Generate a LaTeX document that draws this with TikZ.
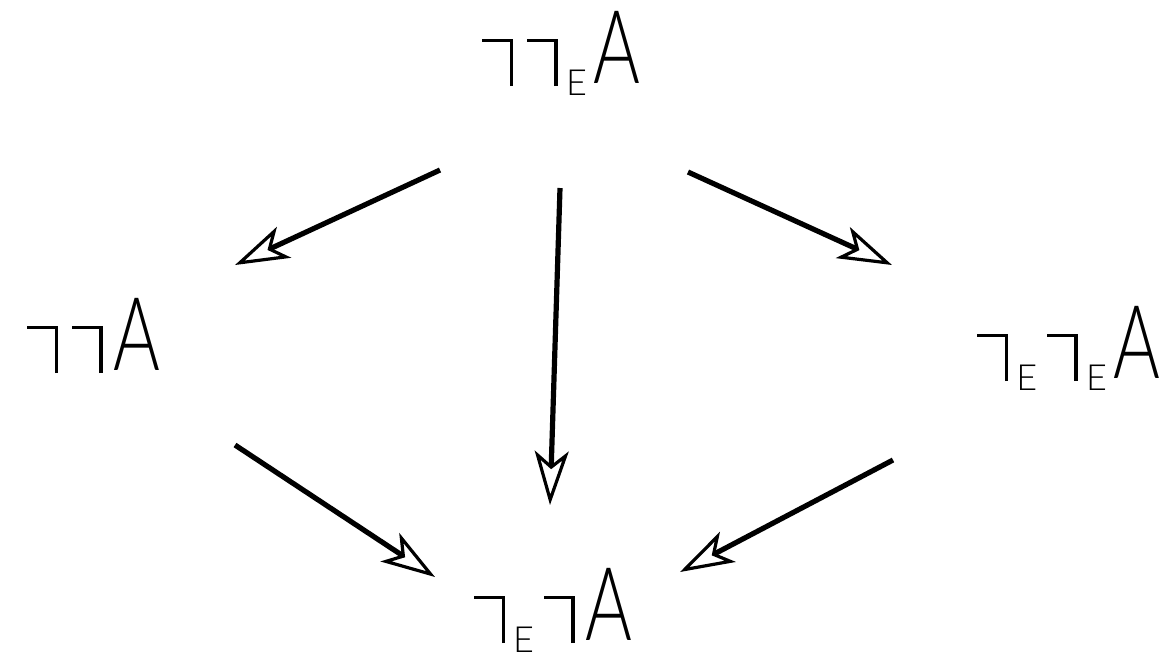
\documentclass[tikz,border=0pt]{standalone}
\usepackage{fontspec}
\setmainfont{Liberation Sans}
\newfontfamily\thinfont{Lato Light}
\usepackage{graphicx}
\usetikzlibrary{arrows.meta,calc}

% hand-drawn negation hook and subscript E
\newcommand{\lneg}{\kern0.04em\rule[0.40em]{0.30em}{0.035em}\kern-0.035em\rule[-0.03em]{0.035em}{0.465em}\kern0.10em}
\newcommand{\subE}{\kern-0.02em\raisebox{-6pt}{\fontsize{18}{20}\selectfont E}\kern0.06em}
\newcommand{\tA}{\scalebox{0.7}[1]{A}}

\begin{document}
\begin{tikzpicture}[
    x=0.5pt, y=-0.5pt,
    formula/.style={inner sep=0pt, anchor=base west, font=\thinfont\fontsize{51}{60}\selectfont},
    arrow/.style={-{Stealth[length=27pt,width=17pt,inset=7pt,open,line width=1.6pt]}, line width=2.6pt}
  ]
    \useasboundingbox (0,0) rectangle (1162,661);

    \node[formula] (top) at (478,83) {\lneg\lneg\subE\tA};
    \node[formula] (left) at (23,370) {\lneg\lneg\tA};
    \node[formula] (right) at (973,378) {\lneg\subE\lneg\subE\tA};
    \node[formula] (bottom) at (470,640) {\lneg\subE\lneg\tA};

    \draw[arrow] ($(top.base west)+(-38,87)$) -- ($(left.base west)+(212,-105)$);
    \draw[arrow] ($(top.base west)+(82,105)$) -- ($(bottom.base west)+(80,-135)$);
    \draw[arrow] ($(top.base west)+(210,89)$) -- ($(right.base west)+(-81,-113)$);
    \draw[arrow] ($(left.base west)+(212,75)$) -- ($(bottom.base west)+(-35,-63)$);
    \draw[arrow] ($(right.base west)+(-80,82)$) -- ($(bottom.base west)+(210,-68)$);
\end{tikzpicture}
\end{document}
